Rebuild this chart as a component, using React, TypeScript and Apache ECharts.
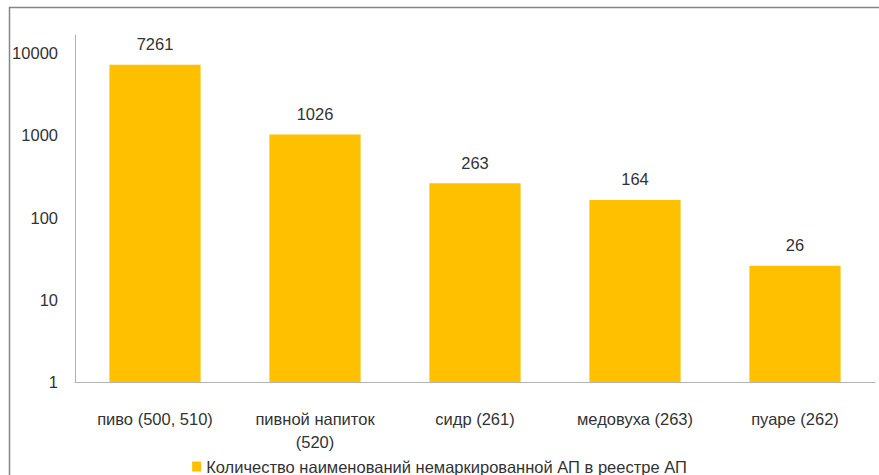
import React, { useEffect, useRef } from "react";
import * as echarts from "echarts";

const categories = ["пиво (500, 510)", "пивной напиток\n(520)", "сидр (261)", "медовуха (263)", "пуаре (262)"];
const values = [7261, 1026, 263, 164, 26];
const seriesName = "Количество наименований немаркированной АП в реестре АП";

const FONT = "'Liberation Sans', Arial, sans-serif";
const FS = 16.5;

export default function App() {
  const ref = useRef<HTMLDivElement>(null);
  useEffect(() => {
    if (!ref.current) return;
    const chart = echarts.init(ref.current, undefined, { renderer: "svg" });
    chart.setOption({
      animation: false,
      backgroundColor: "#ffffff",
      textStyle: { fontFamily: FONT },
      graphic: [
        {
          type: "rect",
          shape: { x: 9.5, y: 7.5, width: 1000, height: 1000 },
          style: { fill: "none", stroke: "#868686", lineWidth: 1.5 },
          silent: true,
          z: 100,
        },
      ],
      grid: { left: 75, right: 4, top: 35, bottom: 93, containLabel: false },
      xAxis: {
        type: "category",
        data: categories,
        axisLine: { show: true, lineStyle: { color: "#B3B3B3", width: 1 } },
        axisTick: { show: false },
        axisLabel: {
          interval: 0,
          color: "#333333",
          fontSize: FS,
          fontFamily: FONT,
          margin: 25,
          lineHeight: 23,
          align: "center",
        },
      },
      yAxis: {
        type: "log",
        logBase: 10,
        min: 1,
        max: 16700,
        axisLine: { show: true, lineStyle: { color: "#B3B3B3", width: 1 } },
        axisTick: { show: false },
        splitLine: { show: false },
        axisLabel: {
          color: "#333333",
          fontSize: FS,
          fontFamily: FONT,
          margin: 17,
          showMaxLabel: false,
          formatter: (v: number) => {
            const l = Math.log10(v);
            return Math.abs(l - Math.round(l)) < 1e-6 ? String(Math.round(v)) : "";
          },
        },
      },
      legend: {
        data: [seriesName],
        left: "center",
        top: 453,
        itemWidth: 9,
        itemHeight: 10,
        icon: "rect",
        itemGap: 5,
        textStyle: { color: "#333333", fontSize: FS, fontFamily: FONT },
      },
      series: [
        {
          name: seriesName,
          type: "bar",
          data: values,
          barWidth: "57%",
          itemStyle: { color: "#FFC000" },
          label: {
            show: true,
            position: "top",
            distance: 12,
            color: "#333333",
            fontSize: FS,
            fontFamily: FONT,
          },
        },
      ],
    });
    return () => chart.dispose();
  }, []);
  return (
    <div
      ref={ref}
      style={{ position: "absolute", left: 0, top: 0, width: 879, height: 475 }}
    />
  );
}
